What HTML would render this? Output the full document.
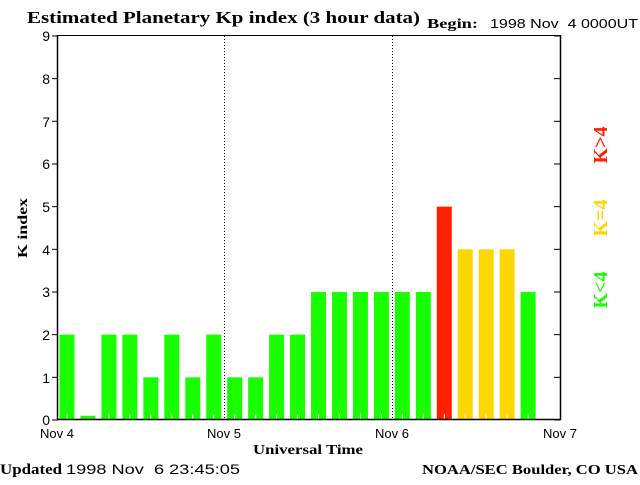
<!DOCTYPE html>
<html><head><style>body{margin:0;background:#fff}</style></head><body>
<svg width="640" height="480" xmlns="http://www.w3.org/2000/svg">
<rect width="640" height="480" fill="#fff"/>
<text x="27" y="23" font-family="Liberation Serif, serif" font-weight="bold" font-size="17" textLength="393" lengthAdjust="spacingAndGlyphs">Estimated Planetary Kp index (3 hour data)</text>
<text x="427" y="28" font-family="Liberation Serif, serif" font-weight="bold" font-size="14" textLength="51" lengthAdjust="spacingAndGlyphs">Begin:</text>
<text x="490" y="28" font-family="Liberation Sans, sans-serif" font-size="13" textLength="148" lengthAdjust="spacingAndGlyphs" xml:space="preserve">1998 Nov  4 0000UT</text>
<g id="bars"></g>
<g font-family="Liberation Sans, sans-serif" font-size="14" text-anchor="end">
<text x="50" y="425">0</text><text x="50" y="383">1</text><text x="50" y="340">2</text><text x="50" y="297">3</text><text x="50" y="255">4</text><text x="50" y="212">5</text><text x="50" y="169">6</text><text x="50" y="127">7</text><text x="50" y="84">8</text><text x="50" y="41">9</text>
</g>
<g font-family="Liberation Sans, sans-serif" font-size="13" text-anchor="middle">
<text x="57" y="438">Nov 4</text><text x="224" y="438">Nov 5</text><text x="392" y="438">Nov 6</text><text x="560" y="438">Nov 7</text>
</g>
<text x="253" y="454" font-family="Liberation Serif, serif" font-weight="bold" font-size="14" textLength="110" lengthAdjust="spacingAndGlyphs">Universal Time</text>
<text transform="translate(27,228) rotate(-90)" text-anchor="middle" font-family="Liberation Serif, serif" font-weight="bold" font-size="14" textLength="60" lengthAdjust="spacingAndGlyphs">K index</text>
<text x="0" y="474" font-family="Liberation Serif, serif" font-weight="bold" font-size="15" textLength="62" lengthAdjust="spacingAndGlyphs">Updated</text>
<text x="66" y="474" font-family="Liberation Sans, sans-serif" font-size="14" textLength="174" lengthAdjust="spacingAndGlyphs" xml:space="preserve">1998 Nov  6 23:45:05</text>
<text x="422" y="474" font-family="Liberation Serif, serif" font-weight="bold" font-size="14" textLength="216" lengthAdjust="spacingAndGlyphs">NOAA/SEC Boulder, CO USA</text>
<g font-family="Liberation Serif, serif" font-weight="bold" font-size="20" text-anchor="middle">
<text transform="translate(607,290) rotate(-90)" fill="#1aff00">K&lt;4</text>
<text transform="translate(607,218) rotate(-90)" fill="#ffd700">K=4</text>
<text transform="translate(607,145) rotate(-90)" fill="#ff2000">K&gt;4</text>
</g>
<path d="M57.5,35 V419.5 H560.5 V35" fill="none" stroke="#000" stroke-width="1.5"/>
<line x1="224.5" y1="36" x2="224.5" y2="419" stroke="#000" stroke-dasharray="1,2"/>
<line x1="392.5" y1="36" x2="392.5" y2="419" stroke="#000" stroke-dasharray="1,2"/>
<line x1="57" y1="35.5" x2="560" y2="35.5" stroke="#000"/>
<g id="ticks" stroke="#000"></g>
</svg>
<script>
var v=[2,0.1,2,2,1,2,1,2,1,1,2,2,3,3,3,3,3,3,5,4,4,4,3];
var g=document.getElementById('bars'),t=document.getElementById('ticks'),s='',u='';
v.forEach(function(k,i){
 var x=57+i*20.96+2.5,h=k*42.67,c=k>4?'#ff2000':(k==4?'#ffd700':'#1aff00');
 s+='<rect x="'+x+'" y="'+(420-h)+'" width="15" height="'+h+'" fill="'+c+'"/>';
 if(k>=1)s+='<line x1="'+(x+7.5)+'" y1="414" x2="'+(x+7.5)+'" y2="420" stroke="#fff"/>';
});
g.innerHTML=s;
for(var k=0;k<=9;k++){var y=420-k*42.67;u+='<line x1="52" y1="'+y+'" x2="57" y2="'+y+'"/><line x1="554" y1="'+y+'" x2="560" y2="'+y+'"/>';}
t.innerHTML=u;
</script>
</body></html>
